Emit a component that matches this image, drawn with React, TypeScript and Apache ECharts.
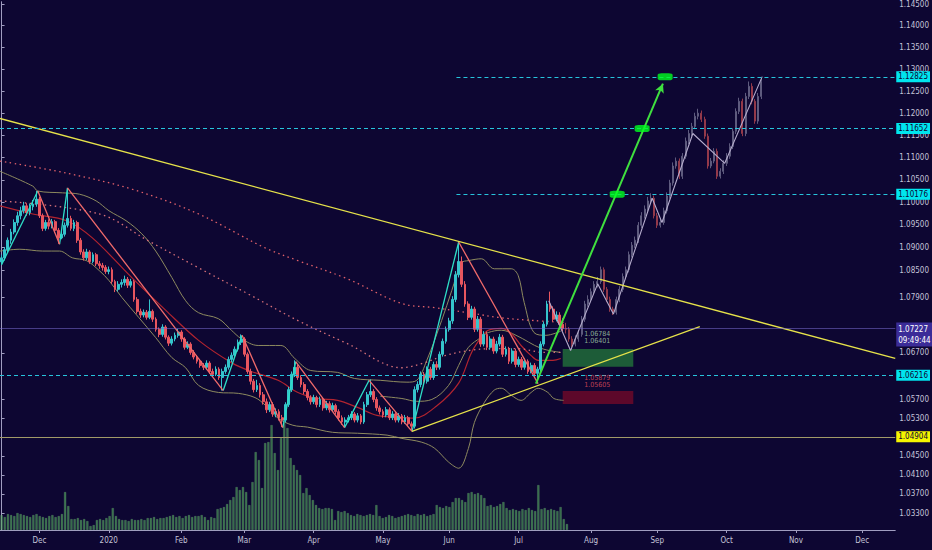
import React, { useEffect, useRef } from 'react';
import * as echarts from 'echarts';

// ---------- categories (trading days) ----------
const N_BARS = 284;
const MONTHS = ['Jan', 'Feb', 'Mar', 'Apr', 'May', 'Jun', 'Jul', 'Aug', 'Sep', 'Oct', 'Nov', 'Dec'];
function buildDays(): string[] {
  const out: string[] = [];
  let t = Date.UTC(2019, 10, 14);
  while (out.length < N_BARS) {
    const d = new Date(t);
    const wd = d.getUTCDay();
    if (wd !== 0 && wd !== 6) out.push(d.toISOString().slice(0, 10));
    t += 86400000;
  }
  return out;
}
const days = buildDays();

// ---------- price axis tick labels ----------
const priceTicks = [1.145, 1.14, 1.135, 1.13, 1.125, 1.12, 1.115, 1.11, 1.105, 1.1, 1.095, 1.09, 1.085, 1.079, 1.067, 1.057, 1.053, 1.045, 1.041, 1.037, 1.033];

// ---------- candles [open, close, low, high] (index 0..178) ----------
const candles = [
  [1.0868, 1.0877, 1.0862, 1.0884], [1.0877, 1.0895, 1.0871, 1.0901], [1.0895, 1.0916, 1.0889, 1.0922], [1.0916, 1.0934, 1.0908, 1.0941],
  [1.0934, 1.0955, 1.0929, 1.0962], [1.0955, 1.0970, 1.0948, 1.0979], [1.0970, 1.0981, 1.0962, 1.0990], [1.0981, 1.0992, 1.0975, 1.1001],
  [1.0992, 1.0977, 1.0970, 1.0998], [1.0977, 1.0990, 1.0971, 1.0997], [1.0990, 1.0996, 1.0982, 1.1005], [1.0996, 1.1007, 1.0990, 1.1025],
  [1.1007, 1.0970, 1.0965, 1.1012], [1.0970, 1.0942, 1.0936, 1.0975], [1.0942, 1.0955, 1.0937, 1.0961], [1.0955, 1.0947, 1.0940, 1.0962],
  [1.0947, 1.0957, 1.0942, 1.0963], [1.0957, 1.0938, 1.0932, 1.0961], [1.0938, 1.0921, 1.0908, 1.0943], [1.0921, 1.0929, 1.0918, 1.0935],
  [1.0929, 1.0949, 1.0924, 1.0955], [1.0949, 1.0964, 1.0944, 1.1031], [1.0964, 1.0942, 1.0937, 1.0970], [1.0942, 1.0955, 1.0936, 1.0961],
  [1.0955, 1.0916, 1.0910, 1.0959], [1.0916, 1.0890, 1.0884, 1.0921], [1.0890, 1.0877, 1.0871, 1.0896], [1.0877, 1.0890, 1.0872, 1.0897],
  [1.0890, 1.0869, 1.0864, 1.0894], [1.0869, 1.0884, 1.0865, 1.0889], [1.0884, 1.0864, 1.0859, 1.0888], [1.0864, 1.0860, 1.0853, 1.0870],
  [1.0860, 1.0856, 1.0849, 1.0866], [1.0856, 1.0847, 1.0842, 1.0861], [1.0847, 1.0851, 1.0841, 1.0858], [1.0851, 1.0825, 1.0820, 1.0856],
  [1.0825, 1.0808, 1.0802, 1.0829], [1.0808, 1.0819, 1.0803, 1.0826], [1.0819, 1.0823, 1.0812, 1.0830], [1.0823, 1.0830, 1.0816, 1.0838],
  [1.0830, 1.0817, 1.0811, 1.0835], [1.0817, 1.0825, 1.0812, 1.0831], [1.0825, 1.0786, 1.0781, 1.0829], [1.0786, 1.0760, 1.0755, 1.0791],
  [1.0760, 1.0752, 1.0746, 1.0766], [1.0752, 1.0758, 1.0747, 1.0764], [1.0758, 1.0747, 1.0742, 1.0763], [1.0747, 1.0760, 1.0743, 1.0786],
  [1.0760, 1.0743, 1.0737, 1.0764], [1.0743, 1.0721, 1.0716, 1.0747], [1.0721, 1.0710, 1.0704, 1.0725], [1.0710, 1.0726, 1.0705, 1.0732],
  [1.0726, 1.0704, 1.0699, 1.0730], [1.0704, 1.0691, 1.0685, 1.0708], [1.0691, 1.0700, 1.0686, 1.0706], [1.0700, 1.0708, 1.0695, 1.0714],
  [1.0708, 1.0715, 1.0703, 1.0722], [1.0715, 1.0700, 1.0694, 1.0719], [1.0700, 1.0682, 1.0677, 1.0704], [1.0682, 1.0689, 1.0678, 1.0695],
  [1.0689, 1.0671, 1.0666, 1.0693], [1.0671, 1.0661, 1.0656, 1.0676], [1.0661, 1.0652, 1.0647, 1.0665], [1.0652, 1.0643, 1.0638, 1.0657],
  [1.0643, 1.0639, 1.0633, 1.0648], [1.0639, 1.0648, 1.0634, 1.0654], [1.0648, 1.0630, 1.0625, 1.0652], [1.0630, 1.0624, 1.0618, 1.0636],
  [1.0624, 1.0635, 1.0620, 1.0641], [1.0635, 1.0617, 1.0612, 1.0639], [1.0617, 1.0630, 1.0589, 1.0636], [1.0630, 1.0639, 1.0625, 1.0645],
  [1.0639, 1.0656, 1.0634, 1.0662], [1.0656, 1.0665, 1.0650, 1.0671], [1.0665, 1.0678, 1.0659, 1.0684], [1.0678, 1.0693, 1.0673, 1.0699],
  [1.0693, 1.0700, 1.0687, 1.0710], [1.0700, 1.0667, 1.0662, 1.0704], [1.0667, 1.0630, 1.0625, 1.0671], [1.0630, 1.0609, 1.0602, 1.0636],
  [1.0609, 1.0591, 1.0585, 1.0614], [1.0591, 1.0600, 1.0586, 1.0612], [1.0600, 1.0580, 1.0574, 1.0605], [1.0580, 1.0565, 1.0559, 1.0586],
  [1.0565, 1.0548, 1.0541, 1.0572], [1.0548, 1.0559, 1.0543, 1.0565], [1.0559, 1.0539, 1.0533, 1.0564], [1.0539, 1.0544, 1.0532, 1.0551],
  [1.0544, 1.0531, 1.0525, 1.0549], [1.0531, 1.0526, 1.0511, 1.0537], [1.0526, 1.0559, 1.0521, 1.0564], [1.0559, 1.0591, 1.0554, 1.0597],
  [1.0591, 1.0624, 1.0586, 1.0630], [1.0624, 1.0639, 1.0618, 1.0654], [1.0639, 1.0617, 1.0612, 1.0644], [1.0617, 1.0602, 1.0596, 1.0622],
  [1.0602, 1.0587, 1.0581, 1.0607], [1.0587, 1.0574, 1.0568, 1.0592], [1.0574, 1.0565, 1.0559, 1.0579], [1.0565, 1.0574, 1.0560, 1.0580],
  [1.0574, 1.0559, 1.0553, 1.0578], [1.0559, 1.0570, 1.0554, 1.0576], [1.0570, 1.0552, 1.0546, 1.0575], [1.0552, 1.0561, 1.0547, 1.0567],
  [1.0561, 1.0548, 1.0542, 1.0566], [1.0548, 1.0557, 1.0543, 1.0563], [1.0557, 1.0544, 1.0538, 1.0561], [1.0544, 1.0531, 1.0525, 1.0549],
  [1.0531, 1.0522, 1.0516, 1.0536], [1.0522, 1.0526, 1.0511, 1.0532], [1.0526, 1.0531, 1.0521, 1.0537], [1.0531, 1.0539, 1.0526, 1.0545],
  [1.0539, 1.0526, 1.0521, 1.0543], [1.0526, 1.0535, 1.0521, 1.0541], [1.0535, 1.0522, 1.0517, 1.0539], [1.0522, 1.0559, 1.0518, 1.0565],
  [1.0559, 1.0580, 1.0554, 1.0586], [1.0580, 1.0587, 1.0575, 1.0613], [1.0587, 1.0570, 1.0564, 1.0592], [1.0570, 1.0552, 1.0546, 1.0575],
  [1.0552, 1.0544, 1.0538, 1.0557], [1.0544, 1.0537, 1.0531, 1.0549], [1.0537, 1.0548, 1.0532, 1.0554], [1.0548, 1.0531, 1.0526, 1.0553],
  [1.0531, 1.0539, 1.0526, 1.0545], [1.0539, 1.0526, 1.0521, 1.0543], [1.0526, 1.0535, 1.0521, 1.0541], [1.0535, 1.0522, 1.0517, 1.0539],
  [1.0522, 1.0531, 1.0518, 1.0537], [1.0531, 1.0518, 1.0513, 1.0535], [1.0518, 1.0513, 1.0503, 1.0523], [1.0513, 1.0591, 1.0508, 1.0598],
  [1.0591, 1.0602, 1.0585, 1.0609], [1.0602, 1.0624, 1.0596, 1.0630], [1.0624, 1.0609, 1.0603, 1.0629], [1.0609, 1.0635, 1.0604, 1.0641],
  [1.0635, 1.0617, 1.0612, 1.0640], [1.0617, 1.0645, 1.0612, 1.0651], [1.0645, 1.0639, 1.0633, 1.0652], [1.0639, 1.0667, 1.0634, 1.0673],
  [1.0667, 1.0695, 1.0662, 1.0701], [1.0695, 1.0721, 1.0690, 1.0727], [1.0721, 1.0739, 1.0716, 1.0746], [1.0739, 1.0786, 1.0733, 1.0793],
  [1.0786, 1.0840, 1.0780, 1.0848], [1.0840, 1.0869, 1.0834, 1.0914], [1.0869, 1.0819, 1.0813, 1.0880], [1.0819, 1.0776, 1.0770, 1.0826],
  [1.0776, 1.0747, 1.0741, 1.0782], [1.0747, 1.0765, 1.0742, 1.0772], [1.0765, 1.0721, 1.0715, 1.0770], [1.0721, 1.0743, 1.0716, 1.0750],
  [1.0743, 1.0689, 1.0683, 1.0748], [1.0689, 1.0710, 1.0684, 1.0717], [1.0710, 1.0682, 1.0676, 1.0716], [1.0682, 1.0700, 1.0677, 1.0706],
  [1.0700, 1.0674, 1.0668, 1.0705], [1.0674, 1.0689, 1.0669, 1.0696], [1.0689, 1.0704, 1.0684, 1.0711], [1.0704, 1.0667, 1.0661, 1.0709],
  [1.0667, 1.0678, 1.0662, 1.0684], [1.0678, 1.0652, 1.0646, 1.0683], [1.0652, 1.0674, 1.0647, 1.0680], [1.0674, 1.0645, 1.0639, 1.0679],
  [1.0645, 1.0656, 1.0640, 1.0662], [1.0656, 1.0639, 1.0633, 1.0661], [1.0639, 1.0652, 1.0634, 1.0658], [1.0652, 1.0630, 1.0625, 1.0656],
  [1.0630, 1.0643, 1.0626, 1.0649], [1.0643, 1.0626, 1.0620, 1.0648], [1.0626, 1.0635, 1.0604, 1.0640], [1.0635, 1.0689, 1.0630, 1.0695],
  [1.0689, 1.0732, 1.0684, 1.0738], [1.0732, 1.0776, 1.0727, 1.0783], [1.0776, 1.0765, 1.0759, 1.0803], [1.0765, 1.0743, 1.0738, 1.0771],
  [1.0743, 1.0752, 1.0738, 1.0760], [1.0752, 1.0732, 1.0727, 1.0758], [1.0732, 1.0723, 1.0717, 1.0745],
];

// ---------- projected (ghost) candles [index, open, close, low, high] ----------
const ghostCandles = [
  [179, 1.0723, 1.0721, 1.0712, 1.0735], [180, 1.0721, 1.0700, 1.0694, 1.0726], [181, 1.0700, 1.0689, 1.0683, 1.0706], [182, 1.0689, 1.0700, 1.0684, 1.0708],
  [183, 1.0700, 1.0710, 1.0694, 1.0718], [184, 1.0710, 1.0743, 1.0705, 1.0750], [185, 1.0743, 1.0776, 1.0737, 1.0783], [186, 1.0776, 1.0786, 1.0770, 1.0795],
  [187, 1.0786, 1.0803, 1.0780, 1.0810], [188, 1.0803, 1.0819, 1.0798, 1.0826], [189, 1.0819, 1.0825, 1.0812, 1.0835], [190, 1.0825, 1.0851, 1.0820, 1.0858],
  [191, 1.0851, 1.0808, 1.0802, 1.0856], [192, 1.0808, 1.0786, 1.0780, 1.0813], [193, 1.0786, 1.0765, 1.0759, 1.0792], [194, 1.0765, 1.0758, 1.0752, 1.0770],
  [195, 1.0758, 1.0786, 1.0753, 1.0792], [196, 1.0786, 1.0808, 1.0780, 1.0815], [197, 1.0808, 1.0836, 1.0802, 1.0843], [198, 1.0836, 1.0851, 1.0830, 1.0858],
  [199, 1.0851, 1.0884, 1.0845, 1.0891], [200, 1.0884, 1.0905, 1.0878, 1.0912], [201, 1.0905, 1.0916, 1.0899, 1.0924], [202, 1.0916, 1.0949, 1.0910, 1.0956],
  [203, 1.0949, 1.0970, 1.0943, 1.0978], [204, 1.0970, 1.0985, 1.0964, 1.0993], [205, 1.0985, 1.1003, 1.0979, 1.1012], [206, 1.1003, 1.1009, 1.0996, 1.1020],
  [207, 1.1009, 1.0970, 1.0964, 1.1015], [208, 1.0970, 1.0949, 1.0943, 1.0976], [209, 1.0949, 1.0955, 1.0944, 1.0962], [210, 1.0955, 1.0981, 1.0950, 1.0988],
  [211, 1.0981, 1.1014, 1.0975, 1.1022], [212, 1.1014, 1.1043, 1.1008, 1.1050], [213, 1.1043, 1.1081, 1.1037, 1.1089], [214, 1.1081, 1.1092, 1.1075, 1.1100],
  [215, 1.1092, 1.1058, 1.1052, 1.1098], [216, 1.1058, 1.1103, 1.1052, 1.1110], [217, 1.1103, 1.1137, 1.1097, 1.1145], [218, 1.1137, 1.1154, 1.1130, 1.1162],
  [219, 1.1154, 1.1170, 1.1148, 1.1178], [220, 1.1170, 1.1193, 1.1164, 1.1201], [221, 1.1193, 1.1200, 1.1186, 1.1210], [222, 1.1200, 1.1186, 1.1180, 1.1206],
  [223, 1.1186, 1.1148, 1.1142, 1.1192], [224, 1.1148, 1.1081, 1.1075, 1.1154], [225, 1.1081, 1.1092, 1.1076, 1.1099], [226, 1.1092, 1.1114, 1.1087, 1.1121],
  [227, 1.1114, 1.1058, 1.1052, 1.1120], [228, 1.1058, 1.1069, 1.1053, 1.1076], [229, 1.1069, 1.1087, 1.1063, 1.1094], [230, 1.1087, 1.1103, 1.1081, 1.1110],
  [231, 1.1103, 1.1125, 1.1097, 1.1132], [232, 1.1125, 1.1159, 1.1119, 1.1166], [233, 1.1159, 1.1204, 1.1153, 1.1211], [234, 1.1204, 1.1227, 1.1198, 1.1235],
  [235, 1.1227, 1.1154, 1.1148, 1.1233], [236, 1.1154, 1.1238, 1.1148, 1.1246], [237, 1.1238, 1.1261, 1.1232, 1.1272], [238, 1.1261, 1.1227, 1.1220, 1.1268],
  [239, 1.1227, 1.1182, 1.1176, 1.1232], [240, 1.1182, 1.1238, 1.1176, 1.1246], [241, 1.1238, 1.1272, 1.1232, 1.1280],
];

// ---------- volume (index 0..178) ----------
const volumes = [
  15, 13, 16, 15, 14, 17, 16, 15, 14, 13, 15, 16, 14, 13, 12, 14, 15, 13, 14, 16,
  38, 24, 11, 11, 12, 10, 11, 9, 4, 5, 10, 11, 10, 12, 14, 22, 14, 11, 10, 10,
  9, 11, 10, 10, 11, 10, 12, 12, 13, 11, 12, 12, 13, 14, 15, 13, 14, 12, 14, 15,
  13, 14, 14, 15, 13, 10, 13, 12, 21, 22, 23, 26, 30, 33, 43, 40, 43, 38, 25, 48,
  78, 70, 42, 87, 88, 105, 77, 60, 92, 107, 102, 72, 65, 60, 55, 37, 42, 35, 30, 25,
  22, 21, 22, 22, 21, 10, 19, 18, 19, 17, 15, 14, 16, 15, 14, 15, 16, 15, 25, 14,
  12, 13, 15, 14, 12, 13, 14, 15, 16, 15, 14, 16, 15, 16, 14, 15, 16, 25, 23, 22,
  24, 23, 28, 32, 32, 30, 28, 37, 38, 36, 37, 35, 32, 24, 25, 23, 24, 26, 28, 22,
  20, 21, 20, 19, 21, 20, 22, 20, 19, 45, 21, 22, 20, 21, 20, 19, 23, 11, 6,
];

// ---------- indicator curves [index, price] ----------
const upperBand = [
  [-0.5, 1.1069], [9.9, 1.1036], [11.5, 1.1025], [19.3, 1.1021], [24.7, 1.1018], [30.0, 1.1003], [34.1, 1.0981], [39.5, 1.0959],
  [44.5, 1.0930], [48.9, 1.0892], [54.0, 1.0834], [58.4, 1.0783], [62.5, 1.0757], [68.8, 1.0744], [72.9, 1.0719], [76.0, 1.0701],
  [81.4, 1.0686], [88.6, 1.0686], [93.0, 1.0658], [98.1, 1.0632], [106.6, 1.0628], [111.9, 1.0615], [120.1, 1.0611], [128.6, 1.0607],
  [131.7, 1.0611], [134.9, 1.0654], [139.6, 1.0740], [142.8, 1.0805], [145.9, 1.0866], [148.1, 1.0871], [152.2, 1.0875], [156.3, 1.0853],
  [161.7, 1.0853], [163.9, 1.0838], [165.8, 1.0779], [168.9, 1.0714], [172.7, 1.0708], [177.4, 1.0717],
];
const basisLine = [
  [120.1, 1.0577], [127.0, 1.0572], [131.7, 1.0566], [136.5, 1.0570], [141.8, 1.0600], [145.0, 1.0643], [148.1, 1.0682], [152.2, 1.0704],
  [154.4, 1.0714], [158.5, 1.0719], [163.2, 1.0708], [171.1, 1.0680], [177.4, 1.0671],
];
const lowerBand = [
  [-0.5, 1.0892], [5.8, 1.0896], [13.0, 1.0892], [18.4, 1.0892], [22.5, 1.0877], [26.9, 1.0871], [31.0, 1.0849], [34.1, 1.0827],
  [38.2, 1.0790], [43.6, 1.0746], [48.9, 1.0703], [54.0, 1.0660], [58.4, 1.0638], [62.5, 1.0600], [68.8, 1.0585], [75.1, 1.0583],
  [80.4, 1.0574], [83.6, 1.0558], [87.7, 1.0530], [92.4, 1.0515], [97.1, 1.0511], [105.0, 1.0500], [112.9, 1.0498], [122.3, 1.0494],
  [127.0, 1.0487], [133.3, 1.0479], [137.4, 1.0466], [141.8, 1.0437], [145.0, 1.0424], [148.1, 1.0466], [150.0, 1.0521], [153.2, 1.0564],
  [156.3, 1.0590], [158.5, 1.0594], [161.7, 1.0579], [164.8, 1.0568], [168.0, 1.0585], [170.2, 1.0594], [173.3, 1.0585], [175.2, 1.0572],
  [178.3, 1.0568],
];
const emaLine = [
  [-0.5, 1.0992], [9.9, 1.0974], [20.6, 1.0959], [28.8, 1.0921], [41.4, 1.0833], [52.1, 1.0762], [62.5, 1.0697], [72.9, 1.0649],
  [79.2, 1.0630], [87.7, 1.0611], [94.0, 1.0585], [100.3, 1.0572], [106.6, 1.0568], [112.9, 1.0553], [119.1, 1.0536], [125.4, 1.0532],
  [130.8, 1.0530], [138.0, 1.0556], [145.0, 1.0605], [149.1, 1.0671], [152.2, 1.0704], [154.4, 1.0719], [158.5, 1.0723], [161.7, 1.0712],
  [164.8, 1.0686], [168.0, 1.0664], [170.2, 1.0654], [174.9, 1.0654], [177.4, 1.0658],
];
const slowMaDotted = [
  [-0.5, 1.1092], [20.6, 1.1065], [41.4, 1.1029], [62.5, 1.0974], [83.6, 1.0899], [94.0, 1.0871], [109.7, 1.0831], [127.0, 1.0777],
  [137.4, 1.0768], [148.1, 1.0757], [158.5, 1.0746], [168.9, 1.0740], [178.3, 1.0736],
];
const midMaDotted = [
  [-0.5, 1.1003], [31.0, 1.0974], [46.7, 1.0914], [62.5, 1.0855], [78.2, 1.0798], [94.0, 1.0740], [109.7, 1.0690], [127.0, 1.0638],
  [133.3, 1.0647], [140.6, 1.0664], [148.1, 1.0675], [155.4, 1.0679], [163.9, 1.0679], [172.0, 1.0671], [178.3, 1.0671],
];

// ---------- zigzag pivots ----------
const zigzagUp = [
  [[0, 1.0862], [11.5, 1.1025]], [[18.4, 1.0907], [20.9, 1.1032]], [[70.3, 1.0589], [76.3, 1.0708]],
  [[89.2, 1.0510], [93.3, 1.0651]], [[108.8, 1.0510], [116.6, 1.0611]], [[130.2, 1.0502], [145.0, 1.0912]],
];
const zigzagDown = [
  [[11.5, 1.1025], [18.4, 1.0907]], [[20.9, 1.1032], [70.3, 1.0589]], [[76.3, 1.0708], [89.2, 1.0510]],
  [[93.3, 1.0651], [108.8, 1.0510]], [[116.6, 1.0611], [130.2, 1.0502]], [[145.0, 1.0912], [170.2, 1.0604]],
];
const projectionPath = [
  [173.6, 1.0783], [180.5, 1.0675], [189.1, 1.0820], [194.1, 1.0754], [206.4, 1.1009], [209.5, 1.0955], [219.3, 1.1154], [229.4, 1.1087], [241.3, 1.1283],
];

// ---------- drawings ----------
const X_LEFT = -0.5;
const X_RIGHT = 283.5;
const descTrend = [[-0.5, 1.1188], [283.5, 1.0658]];
const ascTrend = [[130.2, 1.0502], [221.5, 1.0727]];
const arrowPath = [[169.5, 1.0604], [209.8, 1.1267]];
const targetLevels = [1.12825, 1.11652, 1.10176];
const targetMarkers = [[195.3, 1.10176], [203.2, 1.11652], [210.5, 1.12825]];
const supportLevel = 1.06216;
const floorLevel = 1.04904;
const lastPrice = 1.07227;
const countdown = '09:49:44';
const buyZone = [1.06401, 1.06784];
const stopZone = [1.05605, 1.05879];
const zoneSpan = [178.0, 200.4];
const levelStart = 144.3;
const buyTexts = [[189, 1.0710, '1.06784'], [189, 1.0695, '1.06401']];
const stopTexts = [[189, 1.0615, '1.05879'], [189, 1.0600, '1.05605']];

const FONT = "'Liberation Sans Narrow', 'DejaVu Sans Condensed', 'Liberation Sans', Arial, sans-serif";
const BG = '#0d0632';
const AXIS_TXT = '#c4c3d8';
const AXIS_LINE = '#a09dc0';
const CYAN_TAG = '#00e5ee';

function buildOption(): any {
  const monthStart = new Set<number>();
  days.forEach((d, i) => {
    if (i > 0 && d.slice(5, 7) !== days[i - 1].slice(5, 7)) monthStart.add(i);
  });
  const monthLabel = (v: string) => {
    const m = +v.slice(5, 7);
    return m === 1 ? v.slice(0, 4) : MONTHS[m - 1];
  };
  const showIdx = (i: number) => monthStart.has(i);

  const tag = (text: string, bg: string, color: string) => ({
    show: true, position: 'end', distance: 1, formatter: text, backgroundColor: bg, color,
    padding: [2, 2, 1, 2], fontSize: 8, fontFamily: FONT,
  });
  const dashed = { color: '#27c4dc', type: [4, 3], width: 1 };
  const hLine = (from: number, v: number, lineStyle: any, label: any) => [
    { coord: [from, v], lineStyle, label }, { coord: [X_RIGHT, v] },
  ];

  const lineSeries = (name: string, data: any[], color: string, width: number, type: any = 'solid', z = 2, smooth: any = 0.35) => ({
    name, type: 'line', xAxisIndex: 1, yAxisIndex: 0, data, showSymbol: false, symbol: 'none', smooth, silent: true, z,
    lineStyle: { color, width, type },
  });

  const series: any[] = [
    {
      name: 'Volume', type: 'bar', xAxisIndex: 2, yAxisIndex: 1, data: volumes, barWidth: '74%', silent: true, z: 1,
      itemStyle: { color: 'rgba(80,170,90,0.62)', borderColor: 'rgba(150,220,150,0.35)', borderWidth: 0.5 },
    },
    lineSeries('Upper band', upperBand, '#8d8a5f', 1),
    lineSeries('Basis', basisLine, '#8d8a5f', 1),
    lineSeries('Lower band', lowerBand, '#8d8a5f', 1),
    lineSeries('EMA', emaLine, '#b3242f', 1.2),
    lineSeries('MA slow', slowMaDotted, '#e0606a', 1.3, [1.5, 3.5]),
    lineSeries('MA mid', midMaDotted, '#d77079', 1.3, [1.5, 3.5]),
    {
      name: 'EURCHF', type: 'candlestick', xAxisIndex: 0, yAxisIndex: 0, data: candles, barWidth: 2.3, z: 3, silent: true,
      itemStyle: { color: '#35c4cc', color0: '#e8565f', borderColor: '#35c4cc', borderColor0: '#e8565f', borderWidth: 1 },
    },
    {
      name: 'Projection', type: 'candlestick', xAxisIndex: 0, yAxisIndex: 0, data: ghostCandles, encode: { x: 0, y: [1, 2, 3, 4] },
      barWidth: 1.5, z: 3, silent: true,
      itemStyle: { color: '#5e5b7e', color0: '#93394a', borderColor: '#5e5b7e', borderColor0: '#93394a', borderWidth: 1 },
    },
  ];
  zigzagUp.forEach((leg, k) => series.push(lineSeries('zu' + k, leg, '#2ee0c8', 1.3, 'solid', 4, false)));
  zigzagDown.forEach((leg, k) => series.push(lineSeries('zd' + k, leg, '#f26b6b', 1.3, 'solid', 4, false)));

  const proj = lineSeries('Path', projectionPath, '#b4abcc', 1.1, 'solid', 4, false);
  proj.markLine = {
    silent: true, symbol: ['none', 'none'], animation: false,
    data: [
      [{ coord: descTrend[0], lineStyle: { color: '#e6e24a', width: 1.3, type: 'solid' }, label: { show: false } }, { coord: descTrend[1] }],
      [{ coord: ascTrend[0], lineStyle: { color: '#e6e24a', width: 1.3, type: 'solid' }, label: { show: false } }, { coord: ascTrend[1] }],
      hLine(levelStart, targetLevels[0], dashed, tag(targetLevels[0].toFixed(5), CYAN_TAG, BG)),
      hLine(X_LEFT, targetLevels[1], dashed, tag(targetLevels[1].toFixed(5), CYAN_TAG, BG)),
      hLine(levelStart, targetLevels[2], dashed, tag(targetLevels[2].toFixed(5), CYAN_TAG, BG)),
      hLine(X_LEFT, supportLevel, dashed, tag(supportLevel.toFixed(5), CYAN_TAG, BG)),
      hLine(X_LEFT, floorLevel, { color: '#a19a68', width: 1, type: 'solid' }, tag(floorLevel.toFixed(5), '#f5f500', BG)),
      hLine(X_LEFT, lastPrice, { color: 'rgba(120,105,205,0.55)', width: 1, type: 'solid' },
        { ...tag(lastPrice.toFixed(5) + '\n' + countdown, '#3b2c98', '#ffffff'), lineHeight: 11, padding: [1, 2, 1, 2], offset: [0, 6] }),
      [
        { coord: arrowPath[0], symbol: 'none', lineStyle: { color: '#3fe03f', width: 2, type: 'solid' }, label: { show: false } },
        { coord: arrowPath[1], symbol: 'arrow', symbolSize: [7, 9] },
      ],
    ],
  };
  proj.markArea = {
    silent: true,
    data: [
      [{ coord: [zoneSpan[0], buyZone[0]], itemStyle: { color: 'rgba(40,150,60,0.6)' } }, { coord: [zoneSpan[1], buyZone[1]] }],
      [{ coord: [zoneSpan[0], stopZone[0]], itemStyle: { color: 'rgba(120,10,40,0.75)' } }, { coord: [zoneSpan[1], stopZone[1]] }],
    ],
  };
  series.push(proj);

  series.push({
    name: 'Targets', type: 'scatter', xAxisIndex: 1, yAxisIndex: 0, data: targetMarkers, symbol: 'roundRect', symbolSize: [15, 7],
    itemStyle: { color: '#00ff1e' }, z: 6, silent: true,
  });
  const textSeries = (name: string, data: any[], color: string) => ({
    name, type: 'scatter', xAxisIndex: 1, yAxisIndex: 0, z: 6, silent: true, symbolSize: 1,
    itemStyle: { color: 'rgba(0,0,0,0)' },
    data: data.map((d) => ({ value: [d[0], d[1]], name: d[2] })),
    label: { show: true, position: 'inside', formatter: '{b}', color, fontSize: 7, fontFamily: FONT },
  });
  series.push(textSeries('Buy texts', buyTexts, '#a9d8b0'));
  series.push(textSeries('Stop texts', stopTexts, '#e5505c'));

  return {
    animation: false,
    backgroundColor: BG,
    textStyle: { fontFamily: FONT },
    grid: [
      { left: 0, right: 30, top: 0, bottom: 20 },
      { left: 0, right: 30, top: 420, bottom: 20 },
    ],
    xAxis: [
      {
        type: 'category', gridIndex: 0, data: days, boundaryGap: true,
        axisLine: { show: true, lineStyle: { color: AXIS_LINE, width: 1 } },
        axisTick: { show: true, alignWithLabel: true, interval: showIdx, length: 3, lineStyle: { color: AXIS_LINE } },
        axisLabel: { interval: showIdx, formatter: monthLabel, color: AXIS_TXT, fontSize: 8, margin: 6, fontFamily: FONT },
        splitLine: { show: false },
      },
      { type: 'value', gridIndex: 0, min: X_LEFT, max: X_RIGHT, show: false },
      { type: 'category', gridIndex: 1, data: days, show: false },
    ],
    yAxis: [
      {
        type: 'log', logBase: 10, gridIndex: 0, min: 1.02946, max: 1.14553, position: 'right',
        axisLine: { show: true, lineStyle: { color: AXIS_LINE, width: 1 } },
        axisTick: { show: true, length: 3, customValues: priceTicks, lineStyle: { color: AXIS_LINE } },
        axisLabel: { customValues: priceTicks, formatter: (v: number) => Number(v).toFixed(5), color: AXIS_TXT, fontSize: 8, margin: 4, fontFamily: FONT },
        splitLine: { show: false },
      },
      { type: 'value', gridIndex: 1, min: 0, max: 110, show: false },
    ],
    series,
  };
}

export default function App() {
  const ref = useRef<HTMLDivElement>(null);
  useEffect(() => {
    if (!ref.current) return;
    const chart = echarts.init(ref.current, null, { renderer: 'svg' });
    chart.setOption(buildOption());
    return () => chart.dispose();
  }, []);
  return <div ref={ref} style={{ position: 'fixed', left: 0, top: 0, width: 932, height: 550, background: BG }} />;
}
